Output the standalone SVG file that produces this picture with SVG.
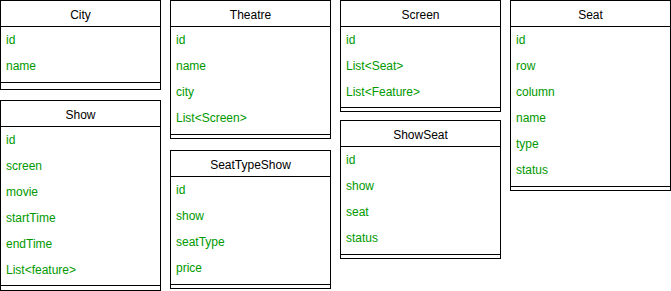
<svg xmlns="http://www.w3.org/2000/svg" width="671" height="291" viewBox="0 0 671 291">
  <style>
    .box { fill: #ffffff; stroke: #000000; stroke-width: 1; }
    .line { stroke: #000000; stroke-width: 1; fill: none; }
    .title { font-family: "Liberation Sans", Arial, Helvetica, sans-serif; font-size: 12px; fill: #000000; text-anchor: middle; }
    .field { font-family: "Liberation Sans", Arial, Helvetica, sans-serif; font-size: 12px; fill: #009900; }
  </style>
  <rect width="671" height="291" fill="#ffffff"/>

  <!-- City -->
  <g id="city">
    <rect class="box" x="0.5" y="0.5" width="160" height="89"/>
    <line class="line" x1="0.5" y1="26.5" x2="160.5" y2="26.5"/>
    <line class="line" x1="0.5" y1="82.5" x2="160.5" y2="82.5"/>
    <text class="title" x="80.5" y="18.5">City</text>
    <text class="field" x="6" y="44">id</text>
    <text class="field" x="6" y="70">name</text>
  </g>

  <!-- Theatre -->
  <g id="theatre">
    <rect class="box" x="170.5" y="0.5" width="160" height="138"/>
    <line class="line" x1="170.5" y1="26.5" x2="330.5" y2="26.5"/>
    <line class="line" x1="170.5" y1="134.5" x2="330.5" y2="134.5"/>
    <text class="title" x="250.5" y="18.5">Theatre</text>
    <text class="field" x="176" y="44">id</text>
    <text class="field" x="176" y="70">name</text>
    <text class="field" x="176" y="96">city</text>
    <text class="field" x="176" y="122">List&lt;Screen&gt;</text>
  </g>

  <!-- Screen -->
  <g id="screen">
    <rect class="box" x="340.5" y="0.5" width="160" height="111"/>
    <line class="line" x1="340.5" y1="26.5" x2="500.5" y2="26.5"/>
    <line class="line" x1="340.5" y1="107.5" x2="500.5" y2="107.5"/>
    <text class="title" x="420.5" y="18.5">Screen</text>
    <text class="field" x="346" y="44">id</text>
    <text class="field" x="346" y="70">List&lt;Seat&gt;</text>
    <text class="field" x="346" y="96">List&lt;Feature&gt;</text>
  </g>

  <!-- Seat -->
  <g id="seat">
    <rect class="box" x="510.5" y="0.5" width="160" height="190"/>
    <line class="line" x1="510.5" y1="26.5" x2="670.5" y2="26.5"/>
    <line class="line" x1="510.5" y1="186.5" x2="670.5" y2="186.5"/>
    <text class="title" x="590.5" y="18.5">Seat</text>
    <text class="field" x="516" y="44">id</text>
    <text class="field" x="516" y="70">row</text>
    <text class="field" x="516" y="96">column</text>
    <text class="field" x="516" y="122">name</text>
    <text class="field" x="516" y="148">type</text>
    <text class="field" x="516" y="174">status</text>
  </g>

  <!-- Show -->
  <g id="show">
    <rect class="box" x="0.5" y="100.5" width="160" height="190"/>
    <line class="line" x1="0.5" y1="126.5" x2="160.5" y2="126.5"/>
    <line class="line" x1="0.5" y1="285.5" x2="160.5" y2="285.5"/>
    <text class="title" x="80.5" y="118.5">Show</text>
    <text class="field" x="6" y="144">id</text>
    <text class="field" x="6" y="170">screen</text>
    <text class="field" x="6" y="196">movie</text>
    <text class="field" x="6" y="222">startTime</text>
    <text class="field" x="6" y="248">endTime</text>
    <text class="field" x="6" y="274">List&lt;feature&gt;</text>
  </g>

  <!-- SeatTypeShow -->
  <g id="seattypeshow">
    <rect class="box" x="170.5" y="150.5" width="160" height="138"/>
    <line class="line" x1="170.5" y1="176.5" x2="330.5" y2="176.5"/>
    <line class="line" x1="170.5" y1="284.5" x2="330.5" y2="284.5"/>
    <text class="title" x="250.5" y="168.5">SeatTypeShow</text>
    <text class="field" x="176" y="194">id</text>
    <text class="field" x="176" y="220">show</text>
    <text class="field" x="176" y="246">seatType</text>
    <text class="field" x="176" y="272">price</text>
  </g>

  <!-- ShowSeat -->
  <g id="showseat">
    <rect class="box" x="340.5" y="120.5" width="160" height="138"/>
    <line class="line" x1="340.5" y1="146.5" x2="500.5" y2="146.5"/>
    <line class="line" x1="340.5" y1="254.5" x2="500.5" y2="254.5"/>
    <text class="title" x="420.5" y="138.5">ShowSeat</text>
    <text class="field" x="346" y="164">id</text>
    <text class="field" x="346" y="190">show</text>
    <text class="field" x="346" y="216">seat</text>
    <text class="field" x="346" y="242">status</text>
  </g>
</svg>
